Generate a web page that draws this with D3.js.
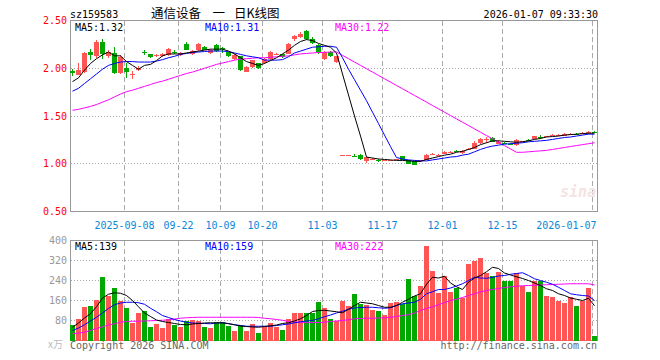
<!DOCTYPE html>
<html>
<head>
<meta charset="utf-8">
<script src="https://cdn.jsdelivr.net/npm/d3@7/dist/d3.min.js"></script>
<style>
  html, body { margin: 0; padding: 0; background: #fff; }
  svg { display: block; }
</style>
</head>
<body>
<div id="chart"></div>
<script>
// daily candles, one per trading day (88 days)
const opens = [1.97,1.93,1.96,2.17,2.13,2.28,2.13,2.16,1.95,2.00, 1.93,1.98,2.165,2.145,2.125,2.13,2.135,2.175,2.14,2.255,
  2.145,2.19,2.22,2.155,2.24,2.21,2.165,2.10,2.125,1.965, 2.015,2.05,2.05,2.10,2.15,2.146,2.153,2.31,2.33,2.385,
  2.31,2.24,2.10,2.17,2.066,1.085,1.085,1.085,1.094,1.024, 1.048,1.037,1.034,1.034,1.043,1.08,1.035,1.024,1.033,1.042,
  1.098,1.092,1.104,1.126,1.136,1.111,1.152,1.153,1.215,1.245, 1.267,1.208,1.216,1.206,1.198,1.231,1.251,1.257,1.282,1.284,
  1.30,1.30,1.295,1.311,1.313,1.325,1.32,1.337];
const highs = [1.99,2.05,2.17,2.20,2.30,2.31,2.19,2.22,2.14,2.05, 1.97,2.02,2.19,2.15,2.15,2.16,2.21,2.19,2.17,2.27,
  2.19,2.26,2.23,2.20,2.25,2.22,2.17,2.15,2.13,2.02, 2.09,2.06,2.11,2.18,2.16,2.15,2.26,2.35,2.38,2.40,
  2.33,2.25,2.18,2.18,2.13,1.095,1.095,1.10,1.10,1.07, 1.055,1.045,1.04,1.04,1.05,1.085,1.04,1.03,1.04,1.10,
  1.11,1.10,1.135,1.135,1.145,1.14,1.16,1.235,1.265,1.28, 1.275,1.245,1.225,1.215,1.255,1.24,1.26,1.295,1.30,1.29,
  1.31,1.31,1.32,1.32,1.32,1.33,1.34,1.34];
const lows = [1.92,1.93,1.95,2.09,2.11,2.10,2.11,1.94,1.94,1.90, 1.89,1.97,2.135,2.11,2.12,2.12,2.13,2.15,2.13,2.19,
  2.14,2.18,2.19,2.15,2.17,2.16,2.12,2.09,1.97,1.96, 2.00,1.99,2.04,2.09,2.14,2.11,2.15,2.29,2.32,2.30,
  2.25,2.15,2.09,2.12,2.06,1.078,1.078,1.07,1.04,1.01, 1.04,1.02,1.025,1.03,1.035,1.04,0.995,0.985,1.02,1.04,
  1.09,1.085,1.10,1.12,1.125,1.105,1.145,1.15,1.21,1.215, 1.23,1.205,1.205,1.195,1.19,1.225,1.24,1.255,1.26,1.275,
  1.29,1.29,1.29,1.305,1.305,1.32,1.315,1.32];
const closes = [1.95,1.98,2.16,2.14,2.27,2.15,2.17,1.95,2.12,1.96, 1.94,2.00,2.16,2.12,2.14,2.15,2.205,2.17,2.16,2.195,
  2.18,2.25,2.195,2.195,2.18,2.20,2.125,2.14,1.98,2.01, 2.09,2.00,2.10,2.17,2.152,2.118,2.257,2.34,2.36,2.31,
  2.264,2.17,2.17,2.125,2.125,1.088,1.088,1.083,1.049,1.066, 1.05,1.035,1.036,1.036,1.045,1.042,1.00,0.99,1.035,1.094,
  1.10,1.094,1.128,1.128,1.134,1.135,1.154,1.222,1.257,1.26, 1.232,1.232,1.214,1.205,1.25,1.233,1.249,1.292,1.28,1.286,
  1.302,1.302,1.3125,1.313,1.311,1.327,1.337,1.333];

// price moving averages as drawn
const ma5 = [1.86,1.90,1.98,2.05,2.10,2.14,2.17,2.13,2.13,2.07, 2.03,1.99,2.03,2.04,2.08,2.13,2.15,2.15,2.15,2.16,
  2.17,2.18,2.19,2.20,2.20,2.20,2.18,2.15,2.11,2.07, 2.05,2.03,2.05,2.08,2.11,2.15,2.19,2.24,2.28,2.30,
  2.29,2.26,2.24,2.22,2.16,1.94,1.72,1.50,1.29,1.07, 1.06,1.05,1.045,1.04,1.035,1.035,1.03,1.025,1.025,1.045,
  1.06,1.075,1.09,1.10,1.12,1.13,1.15,1.17,1.20,1.22, 1.24,1.24,1.235,1.23,1.225,1.23,1.24,1.255,1.265,1.28,
  1.285,1.29,1.30,1.305,1.31,1.315,1.32,1.32];
const ma10 = [1.76,1.79,1.84,1.89,1.94,1.99,2.03,2.05,2.065,2.07, 2.07,2.065,2.065,2.065,2.075,2.09,2.11,2.125,2.145,2.155,
  2.165,2.17,2.175,2.18,2.18,2.18,2.175,2.16,2.145,2.13, 2.12,2.11,2.085,2.085,2.085,2.09,2.12,2.16,2.18,2.20,
  2.22,2.225,2.23,2.23,2.22,2.11,1.99,1.88,1.77,1.66, 1.54,1.42,1.30,1.18,1.065,1.05,1.04,1.035,1.03,1.03,
  1.04,1.05,1.06,1.07,1.075,1.09,1.10,1.125,1.15,1.17, 1.185,1.195,1.205,1.21,1.215,1.22,1.23,1.235,1.24,1.245,
  1.255,1.265,1.275,1.28,1.29,1.30,1.31,1.31];
const ma30 = [1.56,1.57,1.585,1.60,1.62,1.645,1.67,1.70,1.73,1.755, 1.77,1.79,1.81,1.83,1.85,1.865,1.885,1.905,1.925,1.945,
  1.96,1.98,2.00,2.02,2.04,2.055,2.07,2.085,2.095,2.10, 2.105,2.11,2.11,2.115,2.12,2.125,2.13,2.14,2.15,2.155,
  2.16,2.165,2.165,2.17,2.17,2.135,2.10,2.065,2.03,1.995, 1.96,1.925,1.89,1.855,1.82,1.785,1.75,1.715,1.68,1.645,
  1.61,1.575,1.54,1.505,1.47,1.435,1.40,1.365,1.33,1.295, 1.26,1.225,1.19,1.155,1.12,1.12,1.125,1.13,1.135,1.14,
  1.15,1.16,1.17,1.18,1.19,1.20,1.21,1.22];

// volume (万) and its moving averages
const volumes = [64,88,133,140,161,256,180,212,157,129, 71,112,119,56,68,52,88,64,56,80,
  83,80,56,52,76,76,57,40,63,40, 67,32,60,71,56,43,88,112,112,112,
  112,156,132,87,80,160,140,188,147,144, 124,120,104,152,156,148,245,180,217,377,
  280,189,260,193,212,169,305,317,329,271, 260,273,237,237,269,220,196,240,237,180,
  176,160,149,176,140,160,209,17];
const volMa5 = [53,70,90,107,135,170,185,191,189,180, 160,135,110,96,82,76,72,68,64,63,
  66,68,70,71,70,71,67,63,58,56, 54,53,56,59,62,68,71,78,87,100,
  116,120,121,118,115,111,125,140,153,150, 147,140,133,133,140,153,165,178,187,225,
  253,250,257,230,215,204,233,250,260,275, 293,288,270,262,255,248,240,230,220,207,
  200,187,180,170,165,160,169,139];
const volMa10 = [40,50,63,78,93,110,128,143,150,153, 153,151,145,129,115,100,92,84,78,73,
  70,69,68,67,70,71,68,63,60,57, 57,57,57,57,60,63,66,71,75,78,
  80,87,95,102,110,117,125,130,132,133, 133,131,129,131,140,147,150,153,165,187,
  195,204,204,210,218,227,240,253,250,249, 252,258,260,265,268,271,260,247,240,233,
  225,213,200,187,183,180,178,160];
const volMa30 = [27,30,33,40,48,55,62,67,73,76, 77,77,78,79,80,81,83,86,89,91,
  92,93,93,93,93,93,93,93,93,93, 93,92,89,87,84,81,76,74,72,71,
  72,72,73,76,78,80,83,87,88,89, 89,90,91,93,96,100,103,110,120,128,
  135,143,152,160,165,172,180,187,194,200, 204,208,212,215,217,219,220,221,222,223,
  224,225,226,227,227,227,227,222];

// axis labels
const dateTickIdx = [9, 18, 25, 32, 42, 52, 62, 72, 87];
const dateTickLabels = ["2025-09-08","09-22","10-09","10-20","11-03","11-17","12-01","12-15","2026-01-07"];
const priceTicks = [0.5, 1.0, 1.5, 2.0, 2.5];
const priceGrid = [1.0, 1.5, 2.0];
const volTicks = [80, 160, 240, 320, 400];

const UP = "#ff5555", DOWN = "#00a800";
const MONO = "'DejaVu Sans Mono', monospace";
const CJK = "'Noto Sans CJK SC', sans-serif";

const svg = d3.select("#chart").append("svg")
  .attr("width", 660).attr("height", 360);
svg.append("rect").attr("width", 660).attr("height", 360).attr("fill", "#fff");

// scales
const x = d3.scaleLinear().domain([0, 88]).range([70, 598]);
const yP = d3.scaleLinear().domain([0.5, 2.5]).range([211.5, 20.5]);
const yV = d3.scaleLinear().domain([0, 400]).range([340.5, 240.5]);
const cx = (i) => x(i) + 2.5;

// grids
function drawGrid(top, bottom, yScale, hVals) {
  const g = svg.append("g").attr("shape-rendering", "crispEdges");
  g.selectAll(".h").data(hVals).enter().append("line")
    .attr("x1", 71).attr("x2", 597)
    .attr("y1", (d) => Math.floor(yScale(d)) + 0.5)
    .attr("y2", (d) => Math.floor(yScale(d)) + 0.5)
    .attr("stroke", "#aaa").attr("stroke-dasharray", "1,2");
  g.selectAll(".v").data(dateTickIdx).enter().append("line")
    .attr("x1", (d) => x(d) + 0.5).attr("x2", (d) => x(d) + 0.5)
    .attr("y1", top).attr("y2", bottom)
    .attr("stroke", "#aaa").attr("stroke-dasharray", "5,3");
  svg.append("rect")
    .attr("x", 70.5).attr("y", top)
    .attr("width", 527).attr("height", bottom - top)
    .attr("fill", "none").attr("stroke", "#999")
    .attr("shape-rendering", "crispEdges");
}
drawGrid(20.5, 211.5, yP, priceGrid);
drawGrid(240.5, 340.5, yV, [80, 160, 240, 320]);

// candles
const idx = d3.range(opens.length);
const candles = svg.append("g").attr("shape-rendering", "crispEdges");
candles.selectAll(".wick").data(idx).enter().append("line")
  .attr("x1", (i) => cx(i)).attr("x2", (i) => cx(i))
  .attr("y1", (i) => yP(highs[i])).attr("y2", (i) => yP(lows[i]))
  .attr("stroke", (i) => closes[i] >= opens[i] ? UP : DOWN);
candles.selectAll(".body").data(idx).enter().append("rect")
  .attr("x", (i) => x(i))
  .attr("width", 5)
  .attr("y", (i) => yP(Math.max(opens[i], closes[i])))
  .attr("height", (i) => Math.max(1, yP(Math.min(opens[i], closes[i])) - yP(Math.max(opens[i], closes[i]))))
  .attr("fill", (i) => closes[i] >= opens[i] ? UP : DOWN);

// volume bars
svg.append("g").attr("shape-rendering", "crispEdges")
  .selectAll("rect").data(idx).enter().append("rect")
  .attr("x", (i) => x(i))
  .attr("width", 5)
  .attr("y", (i) => yV(volumes[i]))
  .attr("height", (i) => yV(0) - yV(volumes[i]))
  .attr("fill", (i) => closes[i] >= opens[i] ? UP : DOWN);

// moving average lines
function maLine(values, yScale, color) {
  svg.append("path")
    .datum(values)
    .attr("fill", "none")
    .attr("stroke", color)
    .attr("stroke-width", 1)
    .attr("d", d3.line().x((d, i) => cx(i)).y((d) => yScale(d)));
}
maLine(ma30, yP, "#ff00ff");
maLine(ma10, yP, "#0000ff");
maLine(ma5, yP, "#000000");
maLine(volMa30, yV, "#ff00ff");
maLine(volMa10, yV, "#0000ff");
maLine(volMa5, yV, "#000000");

// axes
svg.append("g").attr("transform", "translate(70,0)")
  .call(d3.axisLeft(yP).tickValues(priceTicks).tickSize(0).tickPadding(3).tickFormat(d3.format(".2f")))
  .call((g) => g.select(".domain").remove())
  .selectAll("text").attr("fill", "#ff0000").style("font", "10px " + MONO);

svg.append("g").attr("transform", "translate(70,0)")
  .call(d3.axisLeft(yV).tickValues(volTicks).tickSize(0).tickPadding(3))
  .call((g) => g.select(".domain").remove())
  .selectAll("text").attr("fill", "#999").style("font", "10px " + MONO);

const xAxis = svg.append("g").attr("transform", "translate(0,211.5)")
  .call(d3.axisBottom(x).tickValues(dateTickIdx).tickSize(0).tickPadding(10)
    .tickFormat((d, i) => dateTickLabels[i]))
  .call((g) => g.select(".domain").remove());
xAxis.selectAll("text").attr("fill", "#0a88d8").style("font", "10px " + MONO);
xAxis.selectAll(".tick:last-of-type text").attr("text-anchor", "end").attr("x", -(x(87) - 596));

// header
svg.append("text").attr("x", 70).attr("y", 18).text("sz159583")
  .style("font", "10px " + MONO).attr("fill", "#000");
[["通信设备", 151], ["一", 212.5], ["日K线图", 234]].forEach(([t, px]) => {
  svg.append("text").attr("x", px).attr("y", 17.5).text(t)
    .style("font", "12.5px " + CJK).attr("fill", "#000");
});
svg.append("text").attr("x", 598).attr("y", 18).attr("text-anchor", "end")
  .text("2026-01-07 09:33:30").style("font", "10px " + MONO).attr("fill", "#000");

// legends
const legends = [
  ["MA5:1.32", 75, 30.5, "#000"], ["MA10:1.31", 205, 30.5, "#0000ff"], ["MA30:1.22", 335, 30.5, "#ff00ff"],
  ["MA5:139", 75, 250, "#000"], ["MA10:159", 205, 250, "#0000ff"], ["MA30:222", 335, 250, "#ff00ff"],
];
legends.forEach(([t, lx, ly, c]) => {
  svg.append("text").attr("x", lx).attr("y", ly).text(t)
    .style("font", "10px " + MONO).attr("fill", c);
});

// footer
svg.append("text").attr("x", 48).attr("y", 348).text("x万")
  .style("font", "10px " + CJK).attr("fill", "#bbb");
svg.append("text").attr("x", 70).attr("y", 349).text("Copyright 2026 SINA.COM")
  .style("font", "10px " + MONO).attr("fill", "#666");
svg.append("text").attr("x", 597).attr("y", 349).attr("text-anchor", "end")
  .text("http://finance.sina.com.cn").style("font", "10px " + MONO).attr("fill", "#666");

// watermark
svg.append("text").attr("x", 560).attr("y", 197).text("sina")
  .style("font", "italic bold 15px " + MONO).attr("fill", "#f3e3e3");
</script>
</body>
</html>
